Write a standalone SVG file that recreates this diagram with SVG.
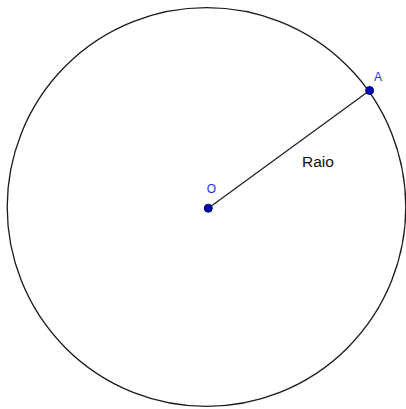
<svg xmlns="http://www.w3.org/2000/svg" width="406" height="409" viewBox="0 0 406 409">
<style>
.lbl{font-family:"Liberation Sans",Arial,sans-serif;fill:#2a2ae6}
.pt{fill:#0000c0;stroke:#000050;stroke-width:1}
</style>
<rect width="406" height="409" fill="#ffffff"/>
<g id="connectors">
<circle cx="206.5" cy="207" r="199.3" fill="none" stroke="#1a1a1a" stroke-width="1.3"/>
<line x1="208.3" y1="208.2" x2="369.6" y2="90.5" stroke="#222" stroke-width="1.3"/>
</g>
<g id="O">
<circle class="pt" cx="208.3" cy="208.2" r="4"/>
<text class="lbl" x="206.8" y="193" font-size="12">O</text>
</g>
<g id="A">
<circle class="pt" cx="369.6" cy="90.5" r="4"/>
<text class="lbl" x="374" y="80.5" font-size="12">A</text>
</g>
<g id="Raio">
<text x="302" y="166.5" font-family="'Liberation Sans',Arial,sans-serif" font-size="15.5" fill="#111">Raio</text>
</g>
</svg>
